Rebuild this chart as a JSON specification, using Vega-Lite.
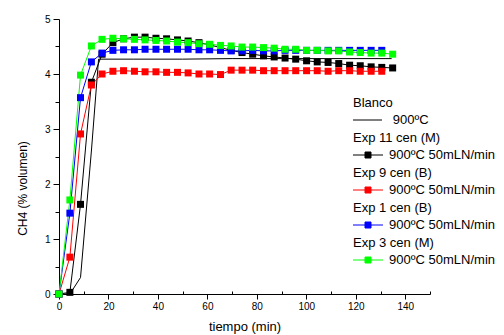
{
  "$schema": "https://vega.github.io/schema/vega-lite/v6.json",
  "width": 371,
  "height": 275,
  "autosize": {"type": "none"},
  "padding": {"left": 59, "top": 19, "right": 74, "bottom": 41},
  "background": "white",
  "config": {
    "view": {"stroke": null},
    "font": "Liberation Sans",
    "axis": {
      "grid": false,
      "domainColor": "black",
      "tickColor": "black",
      "labelColor": "black",
      "titleColor": "black",
      "labelFont": "Liberation Sans",
      "titleFont": "Liberation Sans",
      "labelFontSize": 10,
      "titleFontWeight": "normal",
      "domainWidth": 1,
      "tickWidth": 1
    }
  },
  "data": {
    "values": [
      {"serie": "Blanco", "t": 0, "v": 0},
      {"serie": "Blanco", "t": 4.4, "v": 0},
      {"serie": "Blanco", "t": 8.7, "v": 0.3},
      {"serie": "Blanco", "t": 13.1, "v": 2.6},
      {"serie": "Blanco", "t": 16.0, "v": 4.27},
      {"serie": "Blanco", "t": 30, "v": 4.27},
      {"serie": "Blanco", "t": 50, "v": 4.27},
      {"serie": "Blanco", "t": 70, "v": 4.28},
      {"serie": "Blanco", "t": 90, "v": 4.28},
      {"serie": "Blanco", "t": 110, "v": 4.28},
      {"serie": "Blanco", "t": 134.5, "v": 4.28},

      {"serie": "Exp 11 cen (M)", "t": 0, "v": 0},
      {"serie": "Exp 11 cen (M)", "t": 4.4, "v": 0.03},
      {"serie": "Exp 11 cen (M)", "t": 8.7, "v": 1.63},
      {"serie": "Exp 11 cen (M)", "t": 13.1, "v": 3.85},
      {"serie": "Exp 11 cen (M)", "t": 17.4, "v": 4.36},
      {"serie": "Exp 11 cen (M)", "t": 21.8, "v": 4.57},
      {"serie": "Exp 11 cen (M)", "t": 26.1, "v": 4.64},
      {"serie": "Exp 11 cen (M)", "t": 30.5, "v": 4.67},
      {"serie": "Exp 11 cen (M)", "t": 34.8, "v": 4.67},
      {"serie": "Exp 11 cen (M)", "t": 39.2, "v": 4.65},
      {"serie": "Exp 11 cen (M)", "t": 43.5, "v": 4.64},
      {"serie": "Exp 11 cen (M)", "t": 47.9, "v": 4.62},
      {"serie": "Exp 11 cen (M)", "t": 52.2, "v": 4.60},
      {"serie": "Exp 11 cen (M)", "t": 56.6, "v": 4.57},
      {"serie": "Exp 11 cen (M)", "t": 60.9, "v": 4.53},
      {"serie": "Exp 11 cen (M)", "t": 65.3, "v": 4.48},
      {"serie": "Exp 11 cen (M)", "t": 69.6, "v": 4.43},
      {"serie": "Exp 11 cen (M)", "t": 74.0, "v": 4.39},
      {"serie": "Exp 11 cen (M)", "t": 78.3, "v": 4.36},
      {"serie": "Exp 11 cen (M)", "t": 82.7, "v": 4.33},
      {"serie": "Exp 11 cen (M)", "t": 87.0, "v": 4.31},
      {"serie": "Exp 11 cen (M)", "t": 91.4, "v": 4.29},
      {"serie": "Exp 11 cen (M)", "t": 95.7, "v": 4.27},
      {"serie": "Exp 11 cen (M)", "t": 100.1, "v": 4.24},
      {"serie": "Exp 11 cen (M)", "t": 104.4, "v": 4.22},
      {"serie": "Exp 11 cen (M)", "t": 108.8, "v": 4.21},
      {"serie": "Exp 11 cen (M)", "t": 113.1, "v": 4.19},
      {"serie": "Exp 11 cen (M)", "t": 117.5, "v": 4.16},
      {"serie": "Exp 11 cen (M)", "t": 121.8, "v": 4.15},
      {"serie": "Exp 11 cen (M)", "t": 126.2, "v": 4.13},
      {"serie": "Exp 11 cen (M)", "t": 130.5, "v": 4.12},
      {"serie": "Exp 11 cen (M)", "t": 134.9, "v": 4.11},

      {"serie": "Exp 9 cen (B)", "t": 0, "v": 0},
      {"serie": "Exp 9 cen (B)", "t": 4.4, "v": 0.67},
      {"serie": "Exp 9 cen (B)", "t": 8.7, "v": 2.91},
      {"serie": "Exp 9 cen (B)", "t": 13.1, "v": 3.80},
      {"serie": "Exp 9 cen (B)", "t": 17.4, "v": 4.00},
      {"serie": "Exp 9 cen (B)", "t": 21.8, "v": 4.05},
      {"serie": "Exp 9 cen (B)", "t": 26.1, "v": 4.06},
      {"serie": "Exp 9 cen (B)", "t": 30.5, "v": 4.05},
      {"serie": "Exp 9 cen (B)", "t": 34.8, "v": 4.04},
      {"serie": "Exp 9 cen (B)", "t": 39.2, "v": 4.04},
      {"serie": "Exp 9 cen (B)", "t": 43.5, "v": 4.03},
      {"serie": "Exp 9 cen (B)", "t": 47.9, "v": 4.03},
      {"serie": "Exp 9 cen (B)", "t": 52.2, "v": 4.02},
      {"serie": "Exp 9 cen (B)", "t": 56.6, "v": 4.00},
      {"serie": "Exp 9 cen (B)", "t": 60.9, "v": 4.00},
      {"serie": "Exp 9 cen (B)", "t": 65.3, "v": 3.99},
      {"serie": "Exp 9 cen (B)", "t": 69.6, "v": 4.07},
      {"serie": "Exp 9 cen (B)", "t": 74.0, "v": 4.07},
      {"serie": "Exp 9 cen (B)", "t": 78.3, "v": 4.07},
      {"serie": "Exp 9 cen (B)", "t": 82.7, "v": 4.06},
      {"serie": "Exp 9 cen (B)", "t": 87.0, "v": 4.06},
      {"serie": "Exp 9 cen (B)", "t": 91.4, "v": 4.06},
      {"serie": "Exp 9 cen (B)", "t": 95.7, "v": 4.06},
      {"serie": "Exp 9 cen (B)", "t": 100.1, "v": 4.06},
      {"serie": "Exp 9 cen (B)", "t": 104.4, "v": 4.06},
      {"serie": "Exp 9 cen (B)", "t": 108.8, "v": 4.05},
      {"serie": "Exp 9 cen (B)", "t": 113.1, "v": 4.06},
      {"serie": "Exp 9 cen (B)", "t": 117.5, "v": 4.06},
      {"serie": "Exp 9 cen (B)", "t": 121.8, "v": 4.05},
      {"serie": "Exp 9 cen (B)", "t": 126.2, "v": 4.05},
      {"serie": "Exp 9 cen (B)", "t": 130.5, "v": 4.05},

      {"serie": "Exp 1 cen (B)", "t": 0, "v": 0},
      {"serie": "Exp 1 cen (B)", "t": 4.4, "v": 1.47},
      {"serie": "Exp 1 cen (B)", "t": 8.7, "v": 3.57},
      {"serie": "Exp 1 cen (B)", "t": 13.1, "v": 4.22},
      {"serie": "Exp 1 cen (B)", "t": 17.4, "v": 4.38},
      {"serie": "Exp 1 cen (B)", "t": 21.8, "v": 4.43},
      {"serie": "Exp 1 cen (B)", "t": 26.1, "v": 4.44},
      {"serie": "Exp 1 cen (B)", "t": 30.5, "v": 4.44},
      {"serie": "Exp 1 cen (B)", "t": 34.8, "v": 4.45},
      {"serie": "Exp 1 cen (B)", "t": 39.2, "v": 4.45},
      {"serie": "Exp 1 cen (B)", "t": 43.5, "v": 4.45},
      {"serie": "Exp 1 cen (B)", "t": 47.9, "v": 4.45},
      {"serie": "Exp 1 cen (B)", "t": 52.2, "v": 4.45},
      {"serie": "Exp 1 cen (B)", "t": 56.6, "v": 4.44},
      {"serie": "Exp 1 cen (B)", "t": 60.9, "v": 4.44},
      {"serie": "Exp 1 cen (B)", "t": 65.3, "v": 4.43},
      {"serie": "Exp 1 cen (B)", "t": 69.6, "v": 4.42},
      {"serie": "Exp 1 cen (B)", "t": 74.0, "v": 4.42},
      {"serie": "Exp 1 cen (B)", "t": 78.3, "v": 4.43},
      {"serie": "Exp 1 cen (B)", "t": 82.7, "v": 4.42},
      {"serie": "Exp 1 cen (B)", "t": 87.0, "v": 4.42},
      {"serie": "Exp 1 cen (B)", "t": 91.4, "v": 4.43},
      {"serie": "Exp 1 cen (B)", "t": 95.7, "v": 4.43},
      {"serie": "Exp 1 cen (B)", "t": 100.1, "v": 4.43},
      {"serie": "Exp 1 cen (B)", "t": 104.4, "v": 4.43},
      {"serie": "Exp 1 cen (B)", "t": 108.8, "v": 4.43},
      {"serie": "Exp 1 cen (B)", "t": 113.1, "v": 4.43},
      {"serie": "Exp 1 cen (B)", "t": 117.5, "v": 4.43},
      {"serie": "Exp 1 cen (B)", "t": 121.8, "v": 4.43},
      {"serie": "Exp 1 cen (B)", "t": 126.2, "v": 4.43},
      {"serie": "Exp 1 cen (B)", "t": 130.5, "v": 4.43},

      {"serie": "Exp 3 cen (M)", "t": 0, "v": 0},
      {"serie": "Exp 3 cen (M)", "t": 4.4, "v": 1.71},
      {"serie": "Exp 3 cen (M)", "t": 8.7, "v": 3.98},
      {"serie": "Exp 3 cen (M)", "t": 13.1, "v": 4.51},
      {"serie": "Exp 3 cen (M)", "t": 17.4, "v": 4.63},
      {"serie": "Exp 3 cen (M)", "t": 21.8, "v": 4.65},
      {"serie": "Exp 3 cen (M)", "t": 26.1, "v": 4.64},
      {"serie": "Exp 3 cen (M)", "t": 30.5, "v": 4.63},
      {"serie": "Exp 3 cen (M)", "t": 34.8, "v": 4.62},
      {"serie": "Exp 3 cen (M)", "t": 39.2, "v": 4.61},
      {"serie": "Exp 3 cen (M)", "t": 43.5, "v": 4.60},
      {"serie": "Exp 3 cen (M)", "t": 47.9, "v": 4.58},
      {"serie": "Exp 3 cen (M)", "t": 52.2, "v": 4.57},
      {"serie": "Exp 3 cen (M)", "t": 56.6, "v": 4.55},
      {"serie": "Exp 3 cen (M)", "t": 60.9, "v": 4.54},
      {"serie": "Exp 3 cen (M)", "t": 65.3, "v": 4.52},
      {"serie": "Exp 3 cen (M)", "t": 69.6, "v": 4.51},
      {"serie": "Exp 3 cen (M)", "t": 74.0, "v": 4.49},
      {"serie": "Exp 3 cen (M)", "t": 78.3, "v": 4.49},
      {"serie": "Exp 3 cen (M)", "t": 82.7, "v": 4.48},
      {"serie": "Exp 3 cen (M)", "t": 87.0, "v": 4.47},
      {"serie": "Exp 3 cen (M)", "t": 91.4, "v": 4.45},
      {"serie": "Exp 3 cen (M)", "t": 95.7, "v": 4.45},
      {"serie": "Exp 3 cen (M)", "t": 100.1, "v": 4.43},
      {"serie": "Exp 3 cen (M)", "t": 104.4, "v": 4.43},
      {"serie": "Exp 3 cen (M)", "t": 108.8, "v": 4.42},
      {"serie": "Exp 3 cen (M)", "t": 113.1, "v": 4.42},
      {"serie": "Exp 3 cen (M)", "t": 117.5, "v": 4.40},
      {"serie": "Exp 3 cen (M)", "t": 121.8, "v": 4.39},
      {"serie": "Exp 3 cen (M)", "t": 126.2, "v": 4.38},
      {"serie": "Exp 3 cen (M)", "t": 130.5, "v": 4.38},
      {"serie": "Exp 3 cen (M)", "t": 134.9, "v": 4.36}
    ]
  },
  "encoding": {
    "x": {
      "field": "t",
      "type": "quantitative",
      "scale": {"domain": [0, 150], "nice": false, "zero": false},
      "axis": {
        "title": "tiempo (min)",
        "titleFontSize": 13,
        "titleY": 32,
        "titleBaseline": "middle",
        "values": [0, 10, 20, 30, 40, 50, 60, 70, 80, 90, 100, 110, 120, 130, 140, 150],
        "labelExpr": "datum.value % 20 === 0 && datum.value <= 140 ? datum.label : ''",
        "tickSize": {"condition": {"test": "datum.value % 20 === 0", "value": 5}, "value": -3},
        "labelPadding": 2,
        "labelFlush": false,
        "labelOverlap": false
      }
    },
    "y": {
      "field": "v",
      "type": "quantitative",
      "scale": {"domain": [0, 5], "nice": false},
      "axis": {
        "title": "CH4 (% volumen)",
        "titleFontSize": 12,
        "titleX": -37,
        "titleY": 169,
        "titleBaseline": "middle",
        "values": [0, 0.5, 1, 1.5, 2, 2.5, 3, 3.5, 4, 4.5, 5],
        "labelExpr": "datum.value % 1 === 0 ? format(datum.value, 'd') : ''",
        "tickSize": {"condition": {"test": "datum.value % 1 === 0", "value": 6}, "value": 4},
        "labelPadding": 3,
        "labelFlush": false,
        "labelOverlap": false
      }
    },
    "color": {
      "field": "serie",
      "type": "nominal",
      "scale": {
        "domain": ["Blanco", "Exp 11 cen (M)", "Exp 9 cen (B)", "Exp 1 cen (B)", "Exp 3 cen (M)"],
        "range": ["#000000", "#000000", "#ff0000", "#0000ff", "#00ff00"]
      },
      "legend": {
        "title": null,
        "orient": "none",
        "legendX": 294,
        "legendY": 77.5,
        "padding": 0,
        "labelFont": "Liberation Sans",
        "labelFontSize": 13,
        "labelColor": "black",
        "labelLimit": 400,
        "labelOffset": -13,
        "labelBaseline": "middle",
        "symbolSize": 100,
        "symbolStrokeWidth": 1,
        "rowPadding": 4,
        "labelExpr": "[datum.label, datum.label === 'Blanco' ? '\u200b\u00a0\u00a0\u00a0\u00a0\u00a0\u00a0\u00a0\u00a0\u00a0\u00a0\u00a0900\u00baC' : '\u200b\u00a0\u00a0\u00a0\u00a0\u00a0\u00a0\u00a0\u00a0\u00a0\u00a0900\u00baC 50mLN/min']",
        "encode": {
          "labels": {"update": {"lineHeight": {"value": 17}}},
          "symbols": {
            "update": {
              "shape": {"signal": "datum.value === 'Blanco' ? 'M-1.3,3.4L4.5,3.4' : 'M-1.3,3.4L4.7,3.4M1.1,2.8L2.3,2.8L2.3,4L1.1,4Z'"},
              "fill": {"signal": "scale('color', datum.value)"},
              "stroke": {"signal": "scale('color', datum.value)"},
              "strokeWidth": {"value": 1},
              "opacity": {"value": 1}
            }
          }
        }
      }
    }
  },
  "layer": [
    {
      "mark": {"type": "line", "strokeWidth": 1},
      "encoding": {"order": {"field": "t", "type": "quantitative"}}
    },
    {
      "transform": [{"filter": "datum.serie !== 'Blanco'"}],
      "mark": {"type": "square", "size": 49, "filled": true, "opacity": 1}
    }
  ]
}
